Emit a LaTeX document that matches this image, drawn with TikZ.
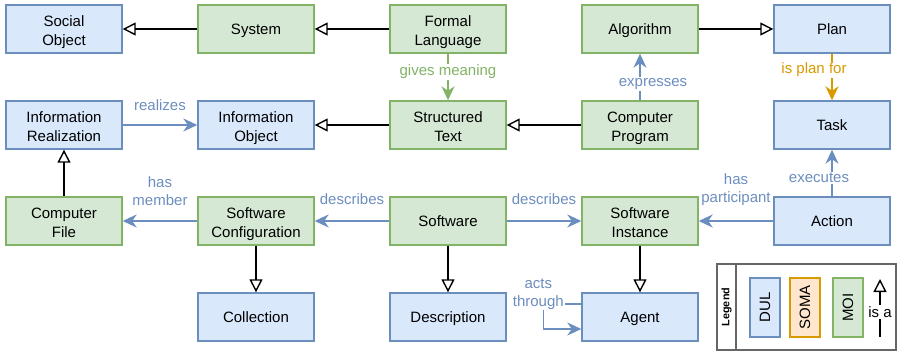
\documentclass[tikz,border=0pt]{standalone}
\usepackage{fontspec}
\setmainfont{Liberation Sans}
\usetikzlibrary{arrows.meta}

\definecolor{dulfill}{HTML}{DAE8FC}
\definecolor{dulline}{HTML}{6C8EBF}
\definecolor{moifill}{HTML}{D5E8D4}
\definecolor{moiline}{HTML}{82B366}
\definecolor{somafill}{HTML}{FFE6CC}
\definecolor{somaline}{HTML}{D79B00}
\definecolor{legline}{HTML}{666666}

\newcommand{\mainsize}{\fontsize{15}{18}\selectfont}
% line strut so that a single text line sits in an 18pt line box
\newcommand{\linestrut}{\rule[-3.8pt]{0pt}{17.8pt}}
% two centred lines, 19pt apart, with fixed top and bottom struts
\newcommand{\twolines}[2]{\vbox{\baselineskip=19pt\lineskiplimit=-50pt
  \halign{\hfil##\hfil\cr\rule{0pt}{17.4pt}#1\cr#2\rule[-4pt]{0pt}{4pt}\cr}}}

\tikzset{
  box/.style={draw, line width=1.4pt, minimum width=116pt, minimum height=48pt,
    inner sep=1pt, font=\mainsize, execute at begin node=\linestrut},
  dul/.style={box, fill=dulfill, draw=dulline},
  moi/.style={box, fill=moifill, draw=moiline},
  isa/.style={draw=black, line width=1.4pt, -{Triangle[open, length=13pt, width=13pt]}},
  rel/.style={line width=1.4pt, -{Stealth[length=14pt, width=13pt, inset=4.5pt]}},
  lbl/.style={font=\mainsize, fill=white, inner sep=1pt, align=center},
  toplbl/.style={font=\mainsize, inner sep=1pt, align=center},
  legbox/.style={draw, line width=1.4pt, rotate=90, minimum width=59pt,
    minimum height=30pt, inner sep=0pt, font=\mainsize},
}

\begin{document}
\begin{tikzpicture}[x=1pt, y=-1pt]
\useasboundingbox (0,0) rectangle (899,353);

% row 1
\node[dul] (so)  at (64,29)  {\twolines{Social}{Object}};
\node[moi] (sys) at (256,29) {System};
\node[moi] (fl)  at (448,29) {\twolines{Formal}{Language}};
\node[moi] (alg) at (640,29) {Algorithm};
\node[dul] (pl)  at (832,29) {Plan};
% row 2
\node[dul] (ir)  at (64,125)  {\twolines{Information}{Realization}};
\node[dul] (io)  at (256,125) {\twolines{Information}{Object}};
\node[moi] (st)  at (448,125) {\twolines{Structured}{Text}};
\node[moi] (cp)  at (640,125) {\twolines{Computer}{Program}};
\node[dul] (tk)  at (832,125) {Task};
% row 3
\node[moi] (cf)  at (64,221)  {\twolines{Computer}{File}};
\node[moi] (sc)  at (256,221) {\twolines{Software}{Configuration}};
\node[moi] (sw)  at (448,221) {Software};
\node[moi] (si)  at (640,221) {\twolines{Software}{Instance}};
\node[dul] (ac)  at (832,221) {Action};
% row 4
\node[dul] (col) at (256,317) {Collection};
\node[dul] (des) at (448,317) {Description};
\node[dul] (ag)  at (640,317) {Agent};

% subclass links
\draw[isa] (sys) -- (so);
\draw[isa] (fl) -- (sys);
\draw[isa] (alg) -- (pl);
\draw[isa] (st) -- (io);
\draw[isa] (cp) -- (st);
\draw[isa] (cf) -- (ir);
\draw[isa] (sc) -- (col);
\draw[isa] (sw) -- (des);
\draw[isa] (si) -- (ag);

% relations
\draw[rel, moiline] (fl) -- node[lbl, text=moiline, yshift=5pt] {gives meaning} (st);
\draw[rel, dulline] (cp) -- node[lbl, text=dulline, xshift=13pt, yshift=-7pt] {expresses} (alg);
\draw[rel, somaline] (pl) -- node[lbl, text=somaline, xshift=-18pt, yshift=7pt] {is plan for} (tk);
\draw[rel, dulline] (ir) -- node[toplbl, text=dulline, yshift=20pt] {realizes} (io);
\draw[rel, dulline] (sc) -- node[toplbl, text=dulline, yshift=29.5pt] {has\\member} (cf);
\draw[rel, dulline] (sw) -- node[toplbl, text=dulline, yshift=22pt] {describes} (sc);
\draw[rel, dulline] (sw) -- node[toplbl, text=dulline, yshift=22pt] {describes} (si);
\draw[rel, dulline] (ac) -- node[toplbl, text=dulline, yshift=31.5pt] {has\\participant} (si);
\draw[rel, dulline] (ac) -- node[lbl, text=dulline, xshift=-13pt, yshift=-5pt] {executes} (tk);
\draw[rel, dulline] ([yshift=13pt]ag.west) -- ++(-38pt,0pt)
  node[lbl, text=dulline, xshift=-5pt, yshift=10pt] {acts\\through}
  |- ([yshift=-12pt]ag.west);

% legend
\node[draw=legline, line width=1.4pt, minimum width=179pt, minimum height=86pt,
  inner sep=0pt] (leg) at (806.5,307) {};
\coordinate (sepT) at (736,264);
\coordinate (sepB) at (736,350);
\draw[legline, line width=1.4pt] (sepT) -- (sepB);
\node[rotate=90, font=\bfseries\fontsize{10.8}{12}\selectfont] (legt) at (726.5,307) {Legend};
\node[legbox, fill=dulfill, draw=dulline] (ldul) at (765,307.5) {DUL};
\node[legbox, fill=somafill, draw=somaline] (lsoma) at (805,307.5) {SOMA};
\node[legbox, fill=moifill, draw=moiline] (lmoi) at (848,307.5) {MOI};
\coordinate (isaS) at (880,337);
\coordinate (isaE) at (880,279);
\draw[isa] (isaS) -- node[lbl, yshift=-4pt] {is a} (isaE);
\end{tikzpicture}
\end{document}
